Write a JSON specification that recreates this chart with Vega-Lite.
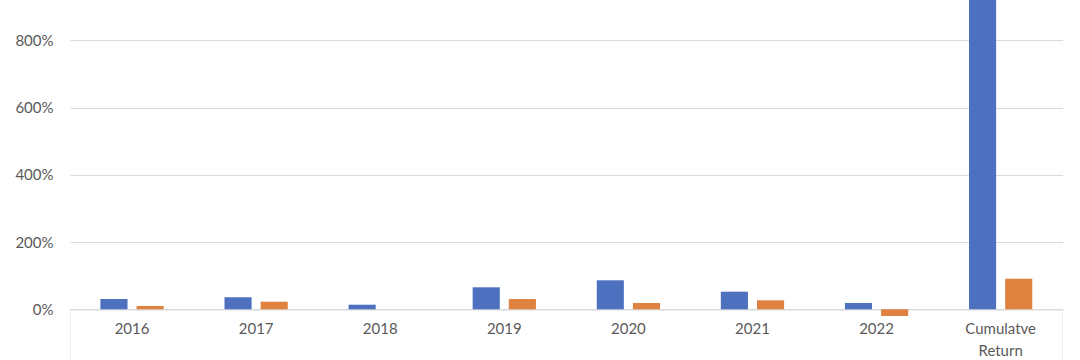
{
  "$schema": "https://vega.github.io/schema/vega-lite/v6.json",
  "width": 992.7,
  "height": 360,
  "autosize": "none",
  "padding": {"left": 70, "top": 0, "right": 17, "bottom": 0},
  "background": "white",
  "config": {
    "view": {"stroke": null},
    "font": "Lato",
    "axis": {"labelFont": "Lato", "labelFontSize": 15, "labelColor": "#595959", "title": null}
  },
  "layer": [
    {
      "data": {
        "values": [
          {"cat": "2016", "series": "Portfolio", "value": 30.6},
          {"cat": "2016", "series": "Benchmark", "value": 10},
          {"cat": "2017", "series": "Portfolio", "value": 35.7},
          {"cat": "2017", "series": "Benchmark", "value": 22.6},
          {"cat": "2018", "series": "Portfolio", "value": 13.7},
          {"cat": "2018", "series": "Benchmark", "value": 0},
          {"cat": "2019", "series": "Portfolio", "value": 65.5},
          {"cat": "2019", "series": "Benchmark", "value": 30.6},
          {"cat": "2020", "series": "Portfolio", "value": 86.3},
          {"cat": "2020", "series": "Benchmark", "value": 18.8},
          {"cat": "2021", "series": "Portfolio", "value": 52.4},
          {"cat": "2021", "series": "Benchmark", "value": 26.8},
          {"cat": "2022", "series": "Portfolio", "value": 18.8},
          {"cat": "2022", "series": "Benchmark", "value": -20},
          {"cat": "Cumulatve Return", "series": "Portfolio", "value": 1050},
          {"cat": "Cumulatve Return", "series": "Benchmark", "value": 91}
        ]
      },
      "mark": {"type": "bar", "clip": true},
      "encoding": {
        "x": {
          "field": "cat",
          "type": "nominal",
          "sort": ["2016", "2017", "2018", "2019", "2020", "2021", "2022", "Cumulatve Return"],
          "scale": {"paddingInner": 0.49, "paddingOuter": 0.245},
          "axis": {
            "orient": "bottom",
            "offset": -50.7,
            "labelAngle": 0,
            "domain": true,
            "domainColor": "#d9d9d9",
            "domainWidth": 1.2,
            "ticks": false,
            "labelPadding": 12,
            "labelLineHeight": 22,
            "labelExpr": "datum.label == 'Cumulatve Return' ? ['Cumulatve', 'Return'] : datum.label"
          }
        },
        "xOffset": {
          "field": "series",
          "type": "nominal",
          "sort": ["Portfolio", "Benchmark"],
          "scale": {"paddingInner": 0.25, "paddingOuter": 0}
        },
        "y": {
          "field": "value",
          "type": "quantitative",
          "scale": {"domain": [-150.9, 920.5], "nice": false, "zero": false},
          "axis": {
            "values": [0, 200, 400, 600, 800],
            "labelExpr": "datum.value + '%'",
            "domain": false,
            "ticks": false,
            "labelPadding": 17,
            "grid": true,
            "gridColor": "#d9d9d9",
            "gridWidth": 1.2
          }
        },
        "color": {
          "field": "series",
          "type": "nominal",
          "scale": {"domain": ["Portfolio", "Benchmark"], "range": ["#4e71bf", "#e0823f"]},
          "legend": null
        }
      }
    },
    {
      "data": {"values": [{"cat": "2016"}]},
      "mark": {"type": "rule", "clip": true, "color": "#d9d9d9", "strokeWidth": 1.2},
      "encoding": {
        "x": {"field": "cat", "type": "nominal", "bandPosition": -0.483, "sort": ["2016", "2017", "2018", "2019", "2020", "2021", "2022", "Cumulatve Return"]},
        "y": {"datum": 0},
        "y2": {"datum": -200}
      }
    },
    {
      "data": {"values": [{"cat": "Cumulatve Return"}]},
      "mark": {"type": "rule", "clip": true, "color": "#d9d9d9", "strokeWidth": 1.2},
      "encoding": {
        "x": {"field": "cat", "type": "nominal", "bandPosition": 1.486, "sort": ["2016", "2017", "2018", "2019", "2020", "2021", "2022", "Cumulatve Return"]},
        "y": {"datum": 0},
        "y2": {"datum": -200}
      }
    }
  ]
}
